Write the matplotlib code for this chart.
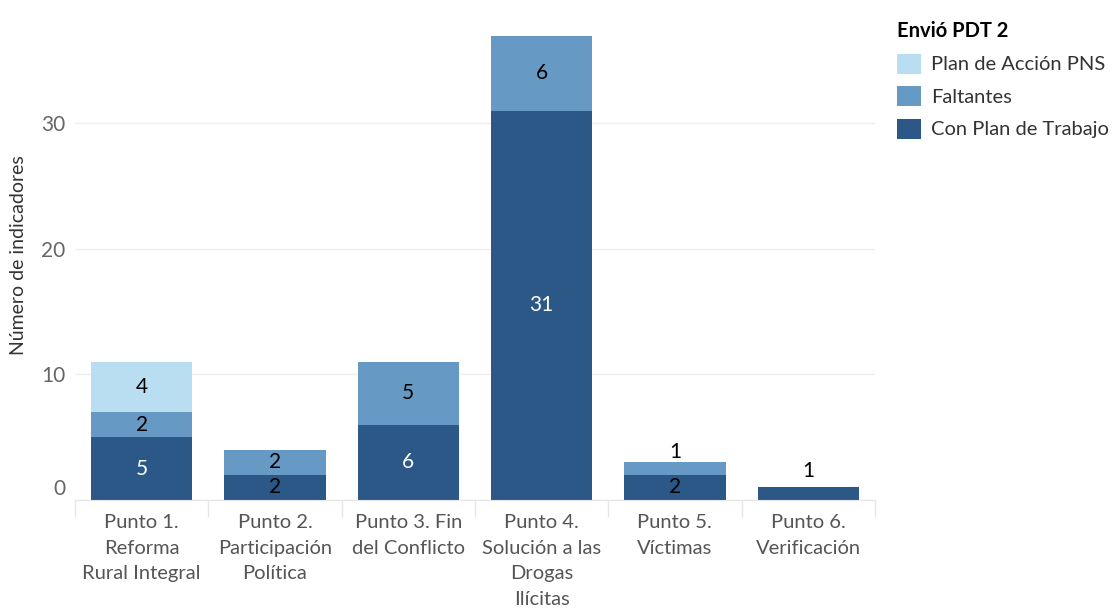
import matplotlib

matplotlib.use("Agg")
import matplotlib.pyplot as plt
from matplotlib.patches import Patch
import matplotlib.transforms as mtransforms
import numpy as np

plt.rcParams["font.family"] = ["Lato", "DejaVu Sans"]

categories = [
    "Punto 1.\nReforma\nRural Integral",
    "Punto 2.\nParticipación\nPolítica",
    "Punto 3. Fin\ndel Conflicto",
    "Punto 4.\nSolución a las\nDrogas\nIlícitas",
    "Punto 5.\nVíctimas",
    "Punto 6.\nVerificación",
]
con_plan = [5, 2, 6, 31, 2, 1]
faltantes = [2, 2, 5, 6, 1, 0]
plan_pns = [4, 0, 0, 0, 0, 0]

series = [
    ("Con Plan de Trabajo", con_plan, "#2b5886"),
    ("Faltantes", faltantes, "#6699c3"),
    ("Plan de Acción PNS", plan_pns, "#b9ddf1"),
]

fig = plt.figure(figsize=(11.14, 6.12), dpi=100)
ax = fig.add_axes([0.0673, 0.183, 0.718, 0.80])

x = np.arange(len(categories))
bottom = np.zeros(len(categories))
for name, vals, color in series:
    vals = np.array(vals, dtype=float)
    ax.bar(x, vals, bottom=bottom, width=0.76, color=color, zorder=2)
    for i, v in enumerate(vals):
        if v <= 0:
            continue
        if v < 1.5:
            # small segment: label sits above the bar
            lift = 0.05 if bottom[i] > 0 else 0.5
            ax.text(x[i], bottom[i] + v + lift, f"{int(v)}", ha="center", va="bottom",
                    fontsize=15, color="black", zorder=3)
        else:
            txt_color = "white" if (color == "#2b5886" and v >= 5) else "black"
            ax.text(x[i], bottom[i] + v / 2, f"{int(v)}", ha="center", va="center",
                    fontsize=15, color=txt_color, zorder=3)
    bottom += vals

ax.set_xlim(-0.5, len(categories) - 0.5)
ax.set_ylim(0, 39)
ax.set_yticks([0, 10, 20, 30])
ax.set_xticks(x)
ax.set_xticklabels(categories, fontsize=14.5, color="#555555", linespacing=1.62)
ax.set_xticks(np.arange(len(categories) + 1) - 0.5, minor=True)
ax.tick_params(axis="x", which="major", length=0, pad=10)
ax.tick_params(axis="x", which="minor", length=12, color="#e6e6e6", width=1)
ax.tick_params(axis="y", length=0, labelsize=15, labelcolor="#666666", pad=7)
ax.set_ylabel("Número de indicadores", fontsize=14, color="#333333", labelpad=10)

# the zero label sits a little above the baseline, as in the source
zero_lbl = ax.get_yticklabels()[0]
zero_lbl.set_transform(zero_lbl.get_transform() + mtransforms.ScaledTranslation(0, 13 / 100, fig.dpi_scale_trans))

ax.grid(axis="y", color="#efefef", linewidth=1, zorder=0)
for side in ["top", "right", "left"]:
    ax.spines[side].set_visible(False)
ax.spines["bottom"].set_color("#e6e6e6")

handles = [Patch(facecolor=c, edgecolor="none", label=n) for n, _, c in reversed(series)]
leg = fig.legend(
    handles=handles,
    loc="upper left",
    bbox_to_anchor=(0.802, 0.972),
    title="Envió PDT 2",
    title_fontproperties={"weight": "bold", "size": 14.5},
    fontsize=14.5,
    frameon=False,
    handlelength=1.15,
    handleheight=1.15,
    handletextpad=0.5,
    labelspacing=0.62,
    alignment="left",
    borderaxespad=0,
    borderpad=0.2,
)
for t in leg.get_texts():
    t.set_color("#333333")

fig.savefig("out.png", dpi=100)
